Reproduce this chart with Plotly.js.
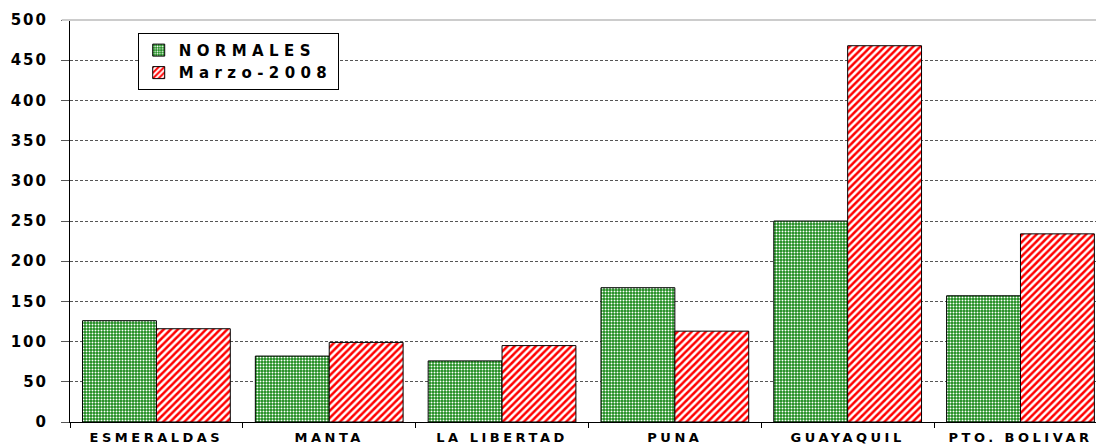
<!DOCTYPE html>
<html>
<head>
<meta charset="utf-8">
<script src="https://cdn.plot.ly/plotly-3.0.1.min.js"></script>
<style>
html,body{margin:0;padding:0;background:#fff;overflow:hidden;}
#chart{width:1096px;height:448px;}
.xtick text{letter-spacing:3.5px;}
.ytick text{letter-spacing:2px;}
.legendtext{letter-spacing:5.4px;}
</style>
</head>
<body>
<div id="chart"></div>
<script>
const categories = ["ESMERALDAS", "MANTA", "LA LIBERTAD", "PUNA", "GUAYAQUIL", "PTO. BOLIVAR"];
const normales = [126, 82, 76, 167, 250, 157];
const marzo2008 = [116, 99, 95, 113, 468, 234];
const yTicks = [0, 50, 100, 150, 200, 250, 300, 350, 400, 450, 500];

const traces = [
  {
    type: "bar", name: "NORMALES", x: categories, y: normales,
    marker: {
      color: "#ffffff",
      line: {color: "#000000", width: 1},
      pattern: {shape: ".", fgcolor: "#ffffff", bgcolor: "#1a8a1a", size: 3, solidity: 0.35, fillmode: "replace"}
    }
  },
  {
    type: "bar", name: "Marzo-2008", x: categories, y: marzo2008,
    marker: {
      color: "#ffffff",
      line: {color: "#000000", width: 1},
      pattern: {shape: "/", fgcolor: "#ff0000", bgcolor: "#ffffff", size: 5, solidity: 0.5, fillmode: "replace"}
    }
  }
];

const layout = {
  width: 1096, height: 448,
  margin: {l: 70, r: 0, t: 20, b: 26},
  paper_bgcolor: "#ffffff", plot_bgcolor: "#ffffff",
  barmode: "group", bargap: 0.145, bargroupgap: 0,
  showlegend: true,
  legend: {
    x: 0.066, y: 0.968, xanchor: "left", yanchor: "top",
    bgcolor: "#ffffff", bordercolor: "#000000", borderwidth: 1,
    font: {family: "DejaVu Sans, sans-serif", size: 15, color: "#000000", weight: "bold"},
    traceorder: "normal", tracegroupgap: 0
  },
  xaxis: {
    type: "category", range: [-0.5, 5.437],
    showline: true, linecolor: "#000000", linewidth: 1,
    ticks: "outside", tickson: "boundaries", ticklen: 5, tickcolor: "#000000",
    showgrid: false,
    tickfont: {family: "DejaVu Sans, sans-serif", size: 13, color: "#000000", weight: "bold"},
    ticklabelstandoff: 3
  },
  yaxis: {
    range: [0, 500], tickvals: yTicks,
    showline: true, linecolor: "#000000", linewidth: 1,
    ticks: "outside", ticklen: 8, tickcolor: "#555555",
    showgrid: true, gridcolor: "#555555", gridwidth: 1, griddash: "3px,2px",
    zeroline: false,
    tickfont: {family: "DejaVu Sans, sans-serif", size: 15, color: "#000000", weight: "bold"},
    ticklabelstandoff: 10
  },
  shapes: [
    {type: "line", xref: "paper", yref: "paper", x0: -0.008, x1: 1, y0: 1, y1: 1,
     line: {color: "#cccccc", width: 2}, layer: "above"}
  ]
};

Plotly.newPlot("chart", traces, layout, {displayModeBar: false, staticPlot: true});
</script>
</body>
</html>
